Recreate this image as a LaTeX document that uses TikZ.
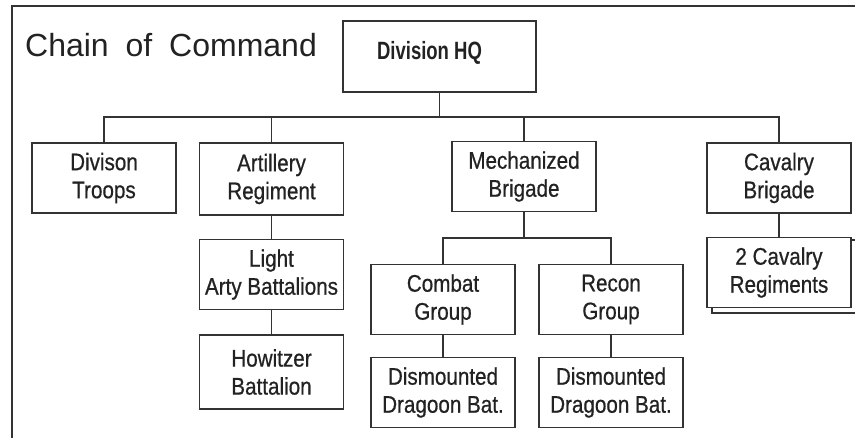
\documentclass[tikz,border=0pt]{standalone}
\usepackage{fontspec}
\setmainfont{Liberation Sans}
\newfontfamily\narrowfont[FakeStretch=0.86,FakeBold=0.6]{Liberation Sans}
\newfontfamily\hqfont[FakeStretch=0.74]{Liberation Sans}
\usepackage{xcolor}
\usepackage{tikz}
\usetikzlibrary{calc}
\definecolor{ink}{HTML}{222222}
\definecolor{rule}{HTML}{333333}
\tikzset{
  frame/.style={draw=rule, line width=1.2pt},
  unit/.style={draw=rule, fill=white, line width=1.1pt, rectangle, inner sep=0pt,
    minimum width=144pt, minimum height=70pt, align=center, text=ink,
    font=\narrowfont\fontsize{24}{28}\selectfont},
  hqbox/.style={unit, minimum width=193pt, minimum height=71pt},
  hqlab/.style={text=ink, font=\hqfont\bfseries\fontsize{25}{28}\selectfont},
  link/.style={draw=rule, line width=1.1pt},
  title/.style={text=ink, font=\fontsize{32}{38}\selectfont, inner sep=0pt},
}
\begin{document}
\begin{tikzpicture}[x=1pt,y=-1pt]
  \useasboundingbox (0,0) rectangle (855,438);
  \clip (0,0) rectangle (855,438);
  \coordinate (bus) at (0,117);
  \coordinate (sub) at (0,238);

  % frame and title
  \draw[frame] (12,438) -- (12,6) -- (855,6);
  \node[title, anchor=base west] (name) at (25,57) {Chain\hspace{8pt} of\hspace{8pt} Command};

  % top
  \node[hqbox] (hq) at (439.5,56.5) {};
  \node[hqlab] (hqtext) at ([xshift=-10pt,yshift=4pt]hq.center) {Division HQ};

  % first level
  \node[unit] (troops) at (104,178) {Divison\\Troops};
  \node[unit, minimum height=72pt] (arty) at (271.5,179) {Artillery\\Regiment};
  \node[unit] (mech) at (524,176.5) {Mechanized\\Brigade};
  \node[unit] (cav) at (779,178) {Cavalry\\Brigade};

  % artillery
  \node[unit] (light) at (271.5,274.5) {Light\\Arty Battalions};
  \node[unit, minimum height=74pt] (howitzer) at (271.5,372) {Howitzer\\Battalion};

  % mechanized
  \node[unit] (combat) at (443,299.5) {Combat\\Group};
  \node[unit] (recon) at (611,299.5) {Recon\\Group};
  \node[unit] (dismc) at (443,392.5) {Dismounted\\Dragoon Bat.};
  \node[unit] (dismr) at (611,392.5) {Dismounted\\Dragoon Bat.};

  % cavalry
  \draw[link] (712,240) rectangle (870,313);
  \node[unit] (cavreg) at (779,272.5) {2 Cavalry\\Regiments};

  % connectors
  \draw[link] (hq.south) -- (hq |- bus);
  \draw[link] (troops.north) -- (troops |- bus) -- (cav |- bus) -- (cav.north);
  \draw[link] (arty.north) -- (arty |- bus);
  \draw[link] (mech.north) -- (mech |- bus);
  \draw[link] (arty.south) -- (light.north);
  \draw[link] (light.south) -- (howitzer.north);
  \draw[link] (mech.south) -- (mech |- sub);
  \draw[link] (combat.north) -- (combat |- sub) -- (recon |- sub) -- (recon.north);
  \draw[link] (combat.south) -- (dismc.north);
  \draw[link] (recon.south) -- (dismr.north);
  \draw[link] (cav.south) -- (cavreg.north);
\end{tikzpicture}
\end{document}
